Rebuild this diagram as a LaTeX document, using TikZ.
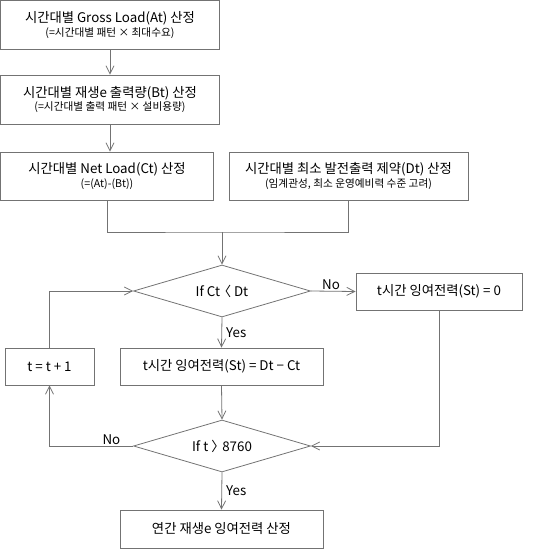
\documentclass[tikz,border=0pt]{standalone}
\usepackage{fontspec}
\setmainfont{Noto Sans CJK KR}
\usetikzlibrary{arrows.meta,shapes.geometric}

\begin{document}
\begin{tikzpicture}[x=0.75pt, y=-0.75pt, font=\fontsize{10}{12}\selectfont,
  >={Straight Barb[length=6pt,width=6pt]}, line width=0.6pt,
  box/.style 2 args={draw=black!55, inner sep=0pt, align=center,
    minimum width=#1*0.75pt, minimum height=#2*0.75pt},
  cond/.style={draw=black!55, diamond, aspect=3.4, inner sep=0pt,
    minimum width=177*0.75pt, minimum height=52*0.75pt},
  flow/.style={draw=black!55, ->},
  lbl/.style={inner sep=1pt}]
  \useasboundingbox (0,0) rectangle (536,549);
  \newcommand{\subline}[1]{{\fontsize{8}{10}\selectfont #1}}

  % ---- Load calculation ----
  \node[box={218.5}{48.5}] (gross) at (110,25)
    {시간대별 Gross Load(At) 산정\\[-2pt]\subline{(=시간대별 패턴 × 최대수요)}};
  \node[box={218.5}{49}] (renew) at (110,99.5)
    {시간대별 재생e 출력량(Bt) 산정\\[-2pt]\subline{(=시간대별 출력 패턴 × 설비용량)}};
  \node[box={213.5}{48}] (net) at (107,176)
    {시간대별 Net Load(Ct) 산정\\[-2pt]\subline{(=(At)-(Bt))}};
  \node[box={239}{48}] (minout) at (348.5,176)
    {시간대별 최소 발전출력 제약(Dt) 산정\\[-2pt]\subline{(임계관성, 최소 운영예비력 수준 고려)}};
  \coordinate (join) at (222,232);

  % ---- Hourly loop ----
  \node[cond] (ifless) at (222,291) {If Ct \kern-0.4em〈 Dt};
  \node[box={166}{37}] (zero) at (439,291.5) {t시간 잉여전력(St) = 0};
  \node[box={203}{37}] (surplus) at (221.5,366.5) {t시간 잉여전력(St) = Dt − Ct};
  \node[box={89}{37}] (next) at (49.5,366.5) {t = t + 1};
  \node[cond] (ifend) at (222,446) {If t 〉\kern-0.4em\ 8760};
  \node[box={203}{38}] (annual) at (221.5,529) {연간 재생e 잉여전력 산정};

  % ---- Connectors ----
  \draw[flow] (gross) -- (renew);
  \draw[flow] (renew.south) -- (renew.south |- net.north);
  \draw[draw=black!55] (net.south) |- (join) -| (minout.south);
  \draw[flow] (join) -- (ifless.north);
  \draw[flow] (ifless.east) -- node[lbl, above, pos=0.45] {No} (zero.west);
  \draw[flow] (ifless.south) -- node[lbl, right, xshift=2pt] {Yes} (surplus.north);
  \draw[flow] (surplus.south) -- (ifend.north);
  \draw[flow] (zero.south) |- (ifend.east);
  \draw[flow] (ifend.west) -| node[lbl, above, pos=0.13] {No} (next.south);
  \draw[flow] (next.north) |- (ifless.west);
  \draw[flow] (ifend.south) -- node[lbl, right, xshift=2pt] {Yes} (annual.north);
\end{tikzpicture}
\end{document}
